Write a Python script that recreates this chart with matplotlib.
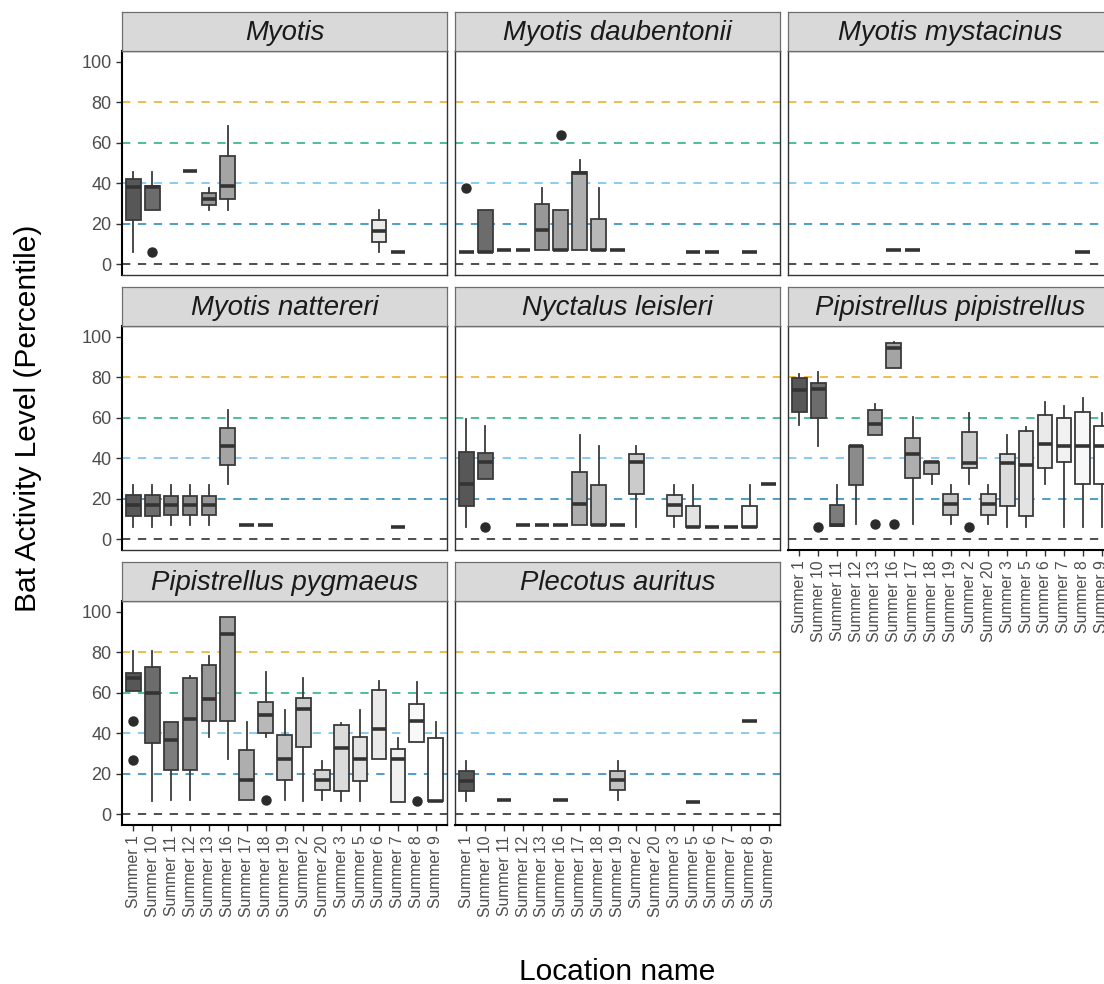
import numpy as np
import matplotlib
matplotlib.use('Agg')
import matplotlib.pyplot as plt

plt.rcParams['font.family'] = ['Liberation Sans', 'DejaVu Sans']

locations = ['Summer 1', 'Summer 10', 'Summer 11', 'Summer 12', 'Summer 13',
             'Summer 16', 'Summer 17', 'Summer 18', 'Summer 19', 'Summer 2',
             'Summer 20', 'Summer 3', 'Summer 5', 'Summer 6', 'Summer 7',
             'Summer 8', 'Summer 9']

# (location, whisker low, q1, median, q3, whisker high, outliers)
myotis = [
    ('Summer 1', 6.2, 21.7, 38.1, 41.9, 45.5, []),
    ('Summer 10', 26.6, 26.6, 37.9, 38.4, 45.5, [6.2]),
    ('Summer 12', 45.8, 45.8, 45.8, 45.8, 45.8, []),
    ('Summer 13', 26.8, 29.4, 32.2, 35.1, 37.6, []),
    ('Summer 16', 26.8, 32.2, 38.4, 53.4, 68.5, []),
    ('Summer 6', 6.2, 11.0, 16.4, 21.7, 26.6, []),
    ('Summer 7', 6.1, 6.1, 6.1, 6.1, 6.1, []),
]
myotis_daubentonii = [
    ('Summer 1', 6.1, 6.1, 6.1, 6.1, 6.1, [37.8]),
    ('Summer 10', 6.1, 6.1, 6.1, 26.8, 26.8, []),
    ('Summer 11', 6.9, 6.9, 6.9, 6.9, 6.9, []),
    ('Summer 12', 6.9, 6.9, 6.9, 6.9, 6.9, []),
    ('Summer 13', 6.9, 6.9, 16.7, 29.6, 37.8, []),
    ('Summer 16', 6.9, 6.9, 6.9, 26.8, 26.8, [63.7]),
    ('Summer 17', 6.9, 6.9, 45.2, 45.6, 51.7, []),
    ('Summer 18', 6.9, 6.9, 6.9, 22.2, 37.8, []),
    ('Summer 19', 6.9, 6.9, 6.9, 6.9, 6.9, []),
    ('Summer 5', 6.1, 6.1, 6.1, 6.1, 6.1, []),
    ('Summer 6', 6.1, 6.1, 6.1, 6.1, 6.1, []),
    ('Summer 8', 6.1, 6.1, 6.1, 6.1, 6.1, []),
]
myotis_mystacinus = [
    ('Summer 16', 6.9, 6.9, 6.9, 6.9, 6.9, []),
    ('Summer 17', 6.9, 6.9, 6.9, 6.9, 6.9, []),
    ('Summer 8', 5.9, 5.9, 5.9, 5.9, 5.9, []),
]
myotis_nattereri = [
    ('Summer 1', 6.2, 11.5, 16.7, 21.8, 26.8, []),
    ('Summer 10', 6.2, 11.5, 16.7, 21.8, 26.8, []),
    ('Summer 11', 7.1, 11.8, 17.1, 21.2, 26.8, []),
    ('Summer 12', 7.1, 11.8, 17.1, 21.2, 26.8, []),
    ('Summer 13', 7.1, 11.8, 17.1, 21.2, 26.8, []),
    ('Summer 16', 27.3, 36.5, 46.0, 55.0, 63.7, []),
    ('Summer 17', 7.1, 7.1, 7.1, 7.1, 7.1, []),
    ('Summer 18', 7.1, 7.1, 7.1, 7.1, 7.1, []),
    ('Summer 7', 6.1, 6.1, 6.1, 6.1, 6.1, []),
]
nyctalus_leisleri = [
    ('Summer 1', 6.2, 16.4, 27.4, 43.2, 59.6, []),
    ('Summer 10', 29.9, 29.9, 38.1, 42.5, 55.7, [6.2]),
    ('Summer 12', 7.1, 7.1, 7.1, 7.1, 7.1, []),
    ('Summer 13', 7.1, 7.1, 7.1, 7.1, 7.1, []),
    ('Summer 16', 7.1, 7.1, 7.1, 7.1, 7.1, []),
    ('Summer 17', 7.1, 7.1, 17.2, 33.3, 51.7, []),
    ('Summer 18', 7.1, 7.1, 7.1, 26.8, 45.8, []),
    ('Summer 19', 7.1, 7.1, 7.1, 7.1, 7.1, []),
    ('Summer 2', 6.2, 22.2, 38.1, 42.0, 45.8, []),
    ('Summer 3', 6.2, 11.3, 16.7, 21.8, 26.8, []),
    ('Summer 5', 6.1, 6.1, 6.1, 16.6, 26.8, []),
    ('Summer 6', 6.1, 6.1, 6.1, 6.1, 6.1, []),
    ('Summer 7', 6.1, 6.1, 6.1, 6.1, 6.1, []),
    ('Summer 8', 6.1, 6.1, 6.1, 16.6, 26.8, []),
    ('Summer 9', 27.1, 27.1, 27.1, 27.1, 27.1, []),
]
pipistrellus_pipistrellus = [
    ('Summer 1', 56.2, 62.9, 73.9, 79.6, 81.8, []),
    ('Summer 10', 46.0, 59.8, 74.4, 77.2, 82.6, [6.1]),
    ('Summer 11', 6.6, 6.6, 7.1, 16.9, 26.8, []),
    ('Summer 12', 7.4, 26.6, 46.0, 46.1, 46.1, []),
    ('Summer 13', 51.7, 51.7, 57.1, 64.0, 66.8, [7.4]),
    ('Summer 16', 84.6, 84.6, 94.4, 96.9, 97.7, [7.4]),
    ('Summer 17', 7.4, 30.0, 41.9, 49.8, 60.4, []),
    ('Summer 18', 27.4, 32.3, 38.0, 38.3, 38.3, []),
    ('Summer 19', 7.4, 12.0, 17.2, 22.2, 26.8, []),
    ('Summer 2', 27.4, 35.0, 37.8, 52.9, 62.4, [6.1]),
    ('Summer 20', 7.4, 12.0, 17.2, 22.2, 26.8, []),
    ('Summer 3', 6.2, 16.4, 37.8, 41.9, 51.7, []),
    ('Summer 5', 6.2, 11.2, 36.6, 53.4, 55.5, []),
    ('Summer 6', 27.4, 35.3, 47.0, 61.2, 67.6, []),
    ('Summer 7', 6.2, 38.1, 46.0, 59.8, 65.7, []),
    ('Summer 8', 6.2, 27.1, 46.0, 63.1, 69.6, []),
    ('Summer 9', 6.2, 27.1, 46.0, 55.8, 62.4, []),
]
pipistrellus_pygmaeus = [
    ('Summer 1', 60.7, 60.7, 67.2, 70.0, 80.5, [45.9, 26.8]),
    ('Summer 10', 6.3, 35.0, 59.9, 72.6, 80.5, []),
    ('Summer 11', 7.1, 21.9, 36.6, 45.6, 45.6, []),
    ('Summer 12', 7.1, 21.9, 46.9, 67.2, 68.2, []),
    ('Summer 13', 38.2, 45.9, 57.1, 73.6, 78.4, []),
    ('Summer 16', 27.1, 45.9, 89.0, 97.7, 97.7, []),
    ('Summer 17', 7.1, 7.1, 17.0, 31.5, 45.6, []),
    ('Summer 18', 38.2, 39.9, 48.9, 55.6, 70.5, [7.1]),
    ('Summer 19', 7.1, 17.0, 27.1, 39.2, 51.7, []),
    ('Summer 2', 6.3, 33.3, 51.8, 57.6, 67.4, []),
    ('Summer 20', 7.1, 12.0, 17.0, 21.9, 26.4, []),
    ('Summer 3', 6.3, 11.2, 32.5, 44.0, 45.3, []),
    ('Summer 5', 6.3, 16.5, 27.1, 37.9, 51.7, []),
    ('Summer 6', 27.1, 27.1, 41.9, 61.2, 65.6, []),
    ('Summer 7', 6.1, 6.1, 27.1, 32.2, 37.7, []),
    ('Summer 8', 35.8, 35.8, 45.9, 54.3, 65.3, [6.3]),
    ('Summer 9', 6.3, 6.3, 6.3, 37.7, 45.4, []),
]
plecotus_auritus = [
    ('Summer 1', 6.3, 11.2, 16.6, 21.5, 26.4, []),
    ('Summer 11', 7.1, 7.1, 7.1, 7.1, 7.1, []),
    ('Summer 16', 7.1, 7.1, 7.1, 7.1, 7.1, []),
    ('Summer 19', 7.1, 12.0, 17.0, 21.5, 26.4, []),
    ('Summer 5', 6.1, 6.1, 6.1, 6.1, 6.1, []),
    ('Summer 8', 45.9, 45.9, 45.9, 45.9, 45.9, []),
]

species = ['Myotis', 'Myotis daubentonii', 'Myotis mystacinus',
           'Myotis nattereri', 'Nyctalus leisleri', 'Pipistrellus pipistrellus',
           'Pipistrellus pygmaeus', 'Plecotus auritus']
species_data = [myotis, myotis_daubentonii, myotis_mystacinus,
                myotis_nattereri, nyctalus_leisleri, pipistrellus_pipistrellus,
                pipistrellus_pygmaeus, plecotus_auritus]

# reference levels (percentile) and their colours
ref_levels = [0, 20, 40, 60, 80]
ref_colors = ['#000000', '#0072B2', '#56B4E9', '#009E73', '#E69F00']


def grey_levels(n, start=0.34, end=1.0, gamma=2.2):
    # same spacing as R's grey.colors()
    g = np.linspace(start ** gamma, end ** gamma, n) ** (1 / gamma)
    return [(v, v, v) for v in g]


fills = dict(zip(locations, grey_levels(len(locations))))

W, H = 1104, 984
fig = plt.figure(figsize=(W / 100, H / 100), dpi=100)

col_left = [122, 455, 788]
row_top = [51, 326, 601]
pw, ph, sh = 325, 224, 39

for k, (name, rows) in enumerate(zip(species, species_data)):
    r, c = divmod(k, 3)
    x0, y0 = col_left[c], row_top[r]
    ax = fig.add_axes([x0 / W, 1 - (y0 + ph) / H, pw / W, ph / H])
    sax = fig.add_axes([x0 / W, 1 - y0 / H, pw / W, sh / H])
    sax.set_facecolor('#d9d9d9')
    sax.set_xticks([])
    sax.set_yticks([])
    for s in sax.spines.values():
        s.set_color('#6e6e6e')
        s.set_linewidth(0.9)
    sax.text(0.5, 0.45, name, ha='center', va='center', fontsize=19.8,
             style='italic', color='#1a1a1a', transform=sax.transAxes)

    for lvl, col in zip(ref_levels, ref_colors):
        ax.axhline(lvl, color=col, lw=1.3, alpha=0.75, dashes=(4.6, 4.2), zorder=1)

    stats = []
    pos = []
    for loc, lo, q1, med, q3, hi, out in rows:
        stats.append(dict(whislo=lo, q1=q1, med=med, q3=q3, whishi=hi,
                          fliers=out))
        pos.append(locations.index(loc))
    bp = ax.bxp(stats, positions=pos, widths=0.78, patch_artist=True,
                showcaps=False, manage_ticks=False,
                boxprops=dict(edgecolor='#3a3a3a', linewidth=1.3),
                medianprops=dict(color='#333333', linewidth=2.6,
                                 solid_capstyle='butt'),
                whiskerprops=dict(color='#3a3a3a', linewidth=1.3),
                flierprops=dict(marker='o', markerfacecolor='#2b2b2b',
                                markeredgecolor='#2b2b2b', markersize=6.5))
    for patch, row in zip(bp['boxes'], rows):
        patch.set_facecolor(fills[row[0]])
        patch.set_zorder(2)

    ax.set_xlim(-0.6, len(locations) - 0.4)
    ax.set_ylim(-5.4, 105.4)
    ax.set_yticks(ref_levels + [100])
    ax.set_xticks(range(len(locations)))
    for s in ax.spines.values():
        s.set_color('#333333')
        s.set_linewidth(1.0)
    ax.tick_params(colors='#333333', length=4, width=1.0)

    if c == 0:
        ax.set_yticklabels([str(v) for v in ref_levels + [100]],
                           fontsize=13, color='#4d4d4d')
        ax.spines['left'].set_color('black')
        ax.spines['left'].set_linewidth(1.5)
    else:
        ax.tick_params(axis='y', length=0, labelleft=False)

    if k >= 5:
        ax.set_xticklabels(locations, rotation=90, fontsize=11.3,
                           color='#4d4d4d', va='top', ha='center')
        ax.spines['bottom'].set_color('black')
        ax.spines['bottom'].set_linewidth(1.5)
    else:
        ax.tick_params(axis='x', length=0, labelbottom=False)

fig.text(28 / W, 1 - 418 / H, 'Bat Activity Level (Percentile)', rotation=90,
         ha='center', va='center', fontsize=21.5, color='black')
fig.text(617 / W, 1 - 972 / H, 'Location name', ha='center', va='center',
         fontsize=21.5, color='black')

fig.savefig('out.png', dpi=100, facecolor='white')
